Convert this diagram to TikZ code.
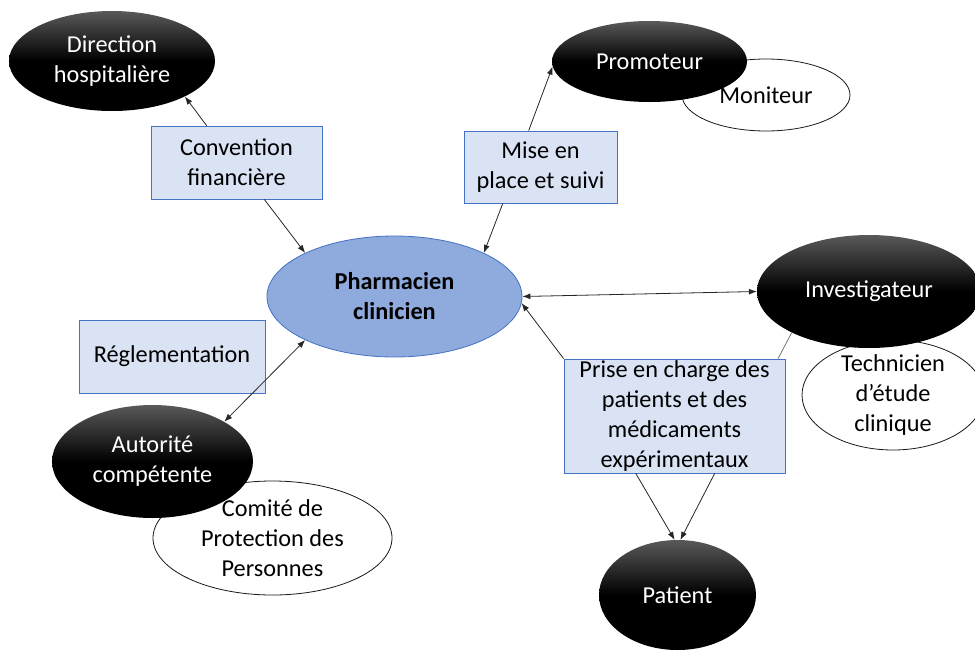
\documentclass[tikz,border=0pt]{standalone}
\usepackage{fontspec}
\setmainfont{Carlito}
\usepackage{tikz}
\usetikzlibrary{shapes.geometric,arrows.meta}
\definecolor{boxfill}{HTML}{DAE3F3}
\definecolor{boxline}{HTML}{4472C4}
\definecolor{pharmfill}{HTML}{8FAADC}
\pgfdeclareverticalshading{darkoval}{100bp}{color(0bp)=(black); color(50bp)=(black); color(75bp)=(black!65); color(100bp)=(black!65)}
\newcommand{\diagfont}{\fontsize{24.3}{30}\selectfont}

\begin{document}
\begin{tikzpicture}[x=1pt,y=-1pt,font=\diagfont,
    actor/.style={ellipse,shading=darkoval,text=white,align=center,inner sep=0pt},
    side/.style={ellipse,draw=black!90,line width=0.8pt,fill=white,align=center,inner sep=0pt},
    label box/.style={rectangle,draw=boxline,line width=0.8pt,fill=boxfill,align=center,inner sep=0pt},
    link/.style={-{Latex[length=8pt,width=6pt]},black!85,line width=0.8pt},
    both/.style={{Latex[length=8pt,width=6pt]}-{Latex[length=8pt,width=6pt]},black!85,line width=0.8pt}]
    \useasboundingbox (0,0) rectangle (975,651);
    \node[side,minimum width=168,minimum height=72] (mon) at (766,95) {Moniteur};
    \node[side,minimum width=182,minimum height=110,inner ysep=-6pt] (tech) at (893,395) {Technicien\\d’étude\\clinique};
    \node[side,minimum width=239,minimum height=114,inner ysep=-6pt] (cpp) at (272.5,538) {Comité de\\Protection des\\Personnes};
    \node[actor,minimum width=206,minimum height=100] (dir) at (112,61) {Direction\\hospitalière};
    \node[actor,minimum width=195,minimum height=81] (prom) at (649.5,61.5) {Promoteur};
    \node[actor,minimum width=224,minimum height=113] (inv) at (869,291.5) {Investigateur};
    \node[actor,minimum width=201,minimum height=113] (aut) at (152.5,461.5) {Autorité\\compétente};
    \node[actor,minimum width=157,minimum height=110] (pat) at (677.5,595) {Patient};
    \node[ellipse,draw=boxline,line width=0.8pt,fill=pharmfill,align=center,inner sep=0pt,minimum width=255,minimum height=121,font=\diagfont\bfseries] (pharm) at (394.5,296.5) {Pharmacien\\clinicien};
    \node[label box,minimum width=171,minimum height=73] (conv) at (236.5,162.5) {Convention\\financière};
    \node[label box,minimum width=153,minimum height=72] (mise) at (540.5,167) {Mise en\\place et suivi};
    \node[label box,minimum width=186,minimum height=73] (regl) at (172,356.5) {Réglementation};
    \node[label box,minimum width=221,minimum height=114] (prise) at (674.5,416) {Prise en charge des\\patients et des\\médicaments\\expérimentaux};
    \draw[link] (conv.129) -- (dir.-26);
    \draw[link] (conv.-53) -- (pharm.154);
    \draw[link] (mise.108) -- (prom.183);
    \draw[link] (mise.-136) -- (pharm.26);
    \draw[both] (pharm.east) -- (inv.west);
    \draw[link] (prise.north west) -- (pharm.-3);
    \draw[black!55,line width=0.8pt] (inv.-152) -- (prise.29);
    \draw[link] (prise.-124) -- (pat.93);
    \draw[link] (prise.-55) -- (pat.87);
    \draw[both] (aut.29) -- (pharm.206);
\end{tikzpicture}
\end{document}
